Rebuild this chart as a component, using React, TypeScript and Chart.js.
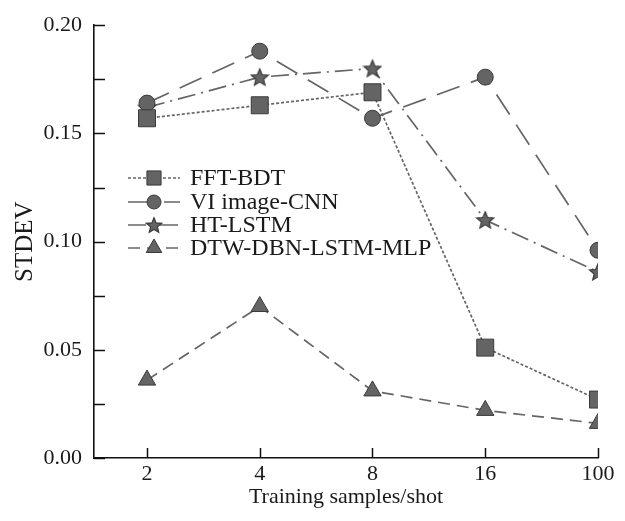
import React, { useEffect, useRef } from 'react';
import { Chart, registerables } from 'chart.js';
import { drawPoint } from 'chart.js/helpers';

Chart.register(...registerables);

const categories = ['2', '4', '8', '16', '100'];
const fftBdt = [0.157, 0.163, 0.169, 0.051, 0.027];
const viCnn = [0.164, 0.188, 0.157, 0.176, 0.096];
const htLstm = [0.162, 0.176, 0.18, 0.11, 0.086];
const dtwDbn = [0.036, 0.07, 0.031, 0.022, 0.016];
const seriesNames = ['FFT-BDT', 'VI image-CNN', 'HT-LSTM', 'DTW-DBN-LSTM-MLP'];

const FONT = '"Liberation Serif", "Times New Roman", serif';
const LINE = '#656565';
const FILL = '#646464';
const EDGE = '#3a3a3a';

function makeStar(size: number): HTMLCanvasElement {
  const c = document.createElement('canvas');
  c.width = size;
  c.height = size;
  const g = c.getContext('2d')!;
  const cx = size / 2;
  const cy = size / 2 + 0.8;
  const ro = size / 2 - 1;
  const ri = ro * 0.45;
  g.beginPath();
  for (let i = 0; i < 10; i++) {
    const r = i % 2 === 0 ? ro : ri;
    const a = -Math.PI / 2 + (i * Math.PI) / 5;
    const px = cx + r * Math.cos(a);
    const py = cy + r * Math.sin(a);
    if (i === 0) g.moveTo(px, py);
    else g.lineTo(px, py);
  }
  g.closePath();
  g.fillStyle = FILL;
  g.fill();
  g.lineWidth = 1.2;
  g.strokeStyle = EDGE;
  g.stroke();
  return c;
}

export default function App() {
  const ref = useRef<HTMLCanvasElement>(null);

  useEffect(() => {
    if (!ref.current) return;
    const star = makeStar(20);
    const starSmall = makeStar(18);
    const toPts = (arr: number[]) => arr.map((v, i) => ({ x: i, y: v }));

    const datasets: any[] = [
      {
        label: seriesNames[0],
        data: toPts(fftBdt),
        borderDash: [3, 2],
        pointStyle: 'rect',
        pointRadius: 12,
        legendRadius: 10,
      },
      {
        label: seriesNames[1],
        data: toPts(viCnn),
        borderDash: [24, 12],
        pointStyle: 'circle',
        pointRadius: 8,
        legendRadius: 7,
      },
      {
        label: seriesNames[2],
        data: toPts(htLstm),
        borderDash: [18, 6, 2, 6],
        pointStyle: star,
        legendStyle: starSmall,
        pointRadius: 10,
        legendRadius: 8,
      },
      {
        label: seriesNames[3],
        data: toPts(dtwDbn),
        borderDash: [12, 7],
        pointStyle: 'triangle',
        pointRadius: 10,
        legendRadius: 9,
      },
    ].map((d) => ({
      ...d,
      borderColor: LINE,
      borderWidth: 1.7,
      backgroundColor: FILL,
      pointBackgroundColor: FILL,
      pointBorderColor: EDGE,
      pointBorderWidth: 1,
      pointHoverRadius: d.pointRadius,
      fill: false,
      tension: 0,
    }));

    const innerTicks = {
      id: 'innerTicks',
      afterDraw(chart: any) {
        const { ctx, chartArea } = chart;
        const xs = chart.scales.x;
        const ys = chart.scales.y;
        ctx.save();
        ctx.strokeStyle = '#111';
        ctx.lineWidth = 1.5;
        ys.ticks.forEach((t: any) => {
          const py = Math.round(ys.getPixelForValue(t.value)) + 0.5;
          ctx.beginPath();
          ctx.moveTo(chartArea.left, py);
          ctx.lineTo(chartArea.left + 11, py);
          ctx.stroke();
        });
        xs.ticks.forEach((t: any) => {
          const px = Math.round(xs.getPixelForValue(t.value)) + 0.5;
          ctx.beginPath();
          ctx.moveTo(px, chartArea.bottom);
          ctx.lineTo(px, chartArea.bottom - 10);
          ctx.stroke();
        });
        ctx.restore();
      },
    };

    const customLegend = {
      id: 'customLegend',
      afterDraw(chart: any) {
        const { ctx } = chart;
        const rows = [178, 202, 225, 248];
        const x0 = 128;
        const x1 = 180;
        const xm = 154;
        const xt = 190;
        ctx.save();
        chart.data.datasets.forEach((ds: any, i: number) => {
          const y = rows[i];
          ctx.strokeStyle = LINE;
          ctx.lineWidth = 1.7;
          ctx.setLineDash(ds.borderDash);
          ctx.beginPath();
          ctx.moveTo(x0, y);
          ctx.lineTo(x1, y);
          ctx.stroke();
          ctx.setLineDash([]);
          ctx.fillStyle = FILL;
          ctx.strokeStyle = EDGE;
          ctx.lineWidth = 1;
          drawPoint(
            ctx,
            {
              pointStyle: ds.legendStyle || ds.pointStyle,
              radius: ds.legendRadius,
              rotation: 0,
              borderWidth: 1,
            } as any,
            xm,
            y
          );
          ctx.fillStyle = '#1a1a1a';
          ctx.font = `24px ${FONT}`;
          ctx.textAlign = 'left';
          ctx.textBaseline = 'middle';
          ctx.fillText(ds.label, xt, y + 1);
        });
        ctx.restore();
      },
    };

    const chart = new Chart(ref.current, {
      type: 'line',
      data: { datasets },
      options: {
        animation: false,
        responsive: true,
        maintainAspectRatio: false,
        layout: { padding: { left: 0, top: 15, right: 27, bottom: 0 } },
        plugins: {
          legend: { display: false },
          tooltip: { enabled: false },
        },
        scales: {
          x: {
            type: 'linear',
            min: -0.47,
            max: 4,
            grid: { display: false, drawTicks: false },
            border: { display: true, color: '#111', width: 1.6 },
            afterBuildTicks: (s: any) => {
              s.ticks = categories.map((_, i) => ({ value: i }));
            },
            afterFit: (s: any) => {
              s.height = 63;
            },
            ticks: {
              padding: 3,
              color: '#1a1a1a',
              font: { family: FONT, size: 22 },
              maxRotation: 0,
              autoSkip: false,
              callback: (v: any) => categories[Math.round(Number(v))] ?? '',
            },
            title: {
              display: true,
              text: 'Training samples/shot',
              color: '#1a1a1a',
              font: { family: FONT, size: 22 },
              padding: { top: 11, bottom: 11 },
            },
          },
          y: {
            min: 0,
            max: 0.2,
            grid: { display: false, drawTicks: false },
            border: { display: true, color: '#111', width: 1.6 },
            afterFit: (s: any) => {
              s.width = 94;
            },
            ticks: {
              stepSize: 0.025,
              padding: 12,
              color: '#1a1a1a',
              font: { family: FONT, size: 22 },
              autoSkip: false,
              callback: (v: any) => {
                const n = Number(v);
                const k = Math.round(n / 0.05);
                return Math.abs(k * 0.05 - n) < 1e-9 ? n.toFixed(2) : '';
              },
            },
            title: {
              display: true,
              text: 'STDEV',
              color: '#1a1a1a',
              font: { family: FONT, size: 25 },
              padding: { top: 10, bottom: 10 },
            },
          },
        },
      },
      plugins: [innerTicks, customLegend],
    });

    return () => chart.destroy();
  }, []);

  return (
    <div
      style={{
        position: 'fixed',
        left: 0,
        top: 0,
        width: 625,
        height: 521,
        background: '#fff',
      }}
    >
      <canvas ref={ref} />
    </div>
  );
}
